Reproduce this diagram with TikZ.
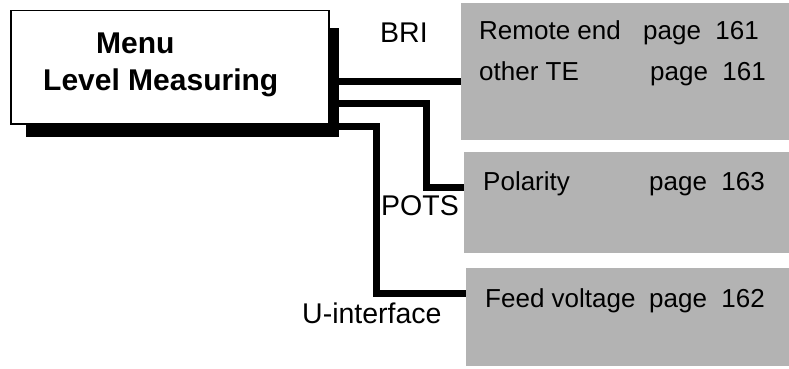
\documentclass[tikz,border=0pt]{standalone}
\usepackage{fontspec}
\setmainfont{Liberation Sans}
\definecolor{panelgray}{HTML}{B3B3B3}

\tikzset{
  menubox/.style={draw=black, line width=1.5pt, fill=white, anchor=north west, inner sep=0pt},
  menushade/.style={fill=black, anchor=north west, inner sep=0pt},
  panel/.style={fill=panelgray, anchor=north west, inner sep=0pt},
  wire/.style={line width=7pt, line join=miter},
  title/.style={anchor=base west, inner sep=0pt, font=\fontsize{30}{34}\selectfont\bfseries},
  portlabel/.style={anchor=base west, inner sep=0pt, font=\fontsize{28.5}{32}\selectfont},
  entry/.style={anchor=base west, inner sep=0pt, font=\fontsize{26}{30}\selectfont},
  pageref/.style={anchor=base east, inner sep=0pt, font=\fontsize{26}{30}\selectfont}
}

\begin{document}
\begin{tikzpicture}[x=1pt, y=-1pt]
\useasboundingbox (0,0) rectangle (789,369);

% Menu box with its shadow
\node[menushade, minimum width=313pt, minimum height=109pt] (menushadow) at (26,28) {};
\node[menubox, minimum width=318pt, minimum height=113pt] (menu) at (10,10) {};
\node[title] (menutitle) at (96,54) {Menu};
\node[title] (menusub) at (43,90) {Level Measuring};

% Wire starts on the shadow edge
\coordinate (outbri) at (menushadow.east |- 0,81.5);
\coordinate (outpots) at (menushadow.east |- 0,103.5);
\coordinate (outu) at (menushadow.east |- 0,126.5);
\coordinate (potsbend) at (426,187);
\coordinate (ubend) at (376,293);

% Wires to the panels
\draw[wire] (outbri) -- (461,81.5) coordinate (briin);
\draw[wire] (outpots) -| (potsbend) -- (464,187) coordinate (potsin);
\draw[wire] (outu) -| (ubend) -- (466,293) coordinate (uin);

% Panels
\node[panel, minimum width=328pt, minimum height=137pt] (bripanel) at (461,3) {};
\node[panel, minimum width=325pt, minimum height=101pt] (potspanel) at (464,152) {};
\node[panel, minimum width=323pt, minimum height=98pt] (upanel) at (466,268) {};

% Port labels
\node[portlabel] (brilabel) at (380,42) {BRI};
\node[portlabel] (potslabel) at (381,215) {POTS};
\node[portlabel] (ulabel) at (302,323) {U-interface};

% Panel entries
\node[entry] (remote) at (479,40) {Remote end};
\node[pageref] (remotepage) at (759,40) {page\ \ 161};
\node[entry] (otherte) at (479,80) {other TE};
\node[pageref] (otherpage) at (766,80) {page\ \ 161};
\node[entry] (polarity) at (483,190) {Polarity};
\node[pageref] (polaritypage) at (765,190) {page\ \ 163};
\node[entry] (feed) at (485,307) {Feed voltage};
\node[pageref] (feedpage) at (765,307) {page\ \ 162};

\end{tikzpicture}
\end{document}
